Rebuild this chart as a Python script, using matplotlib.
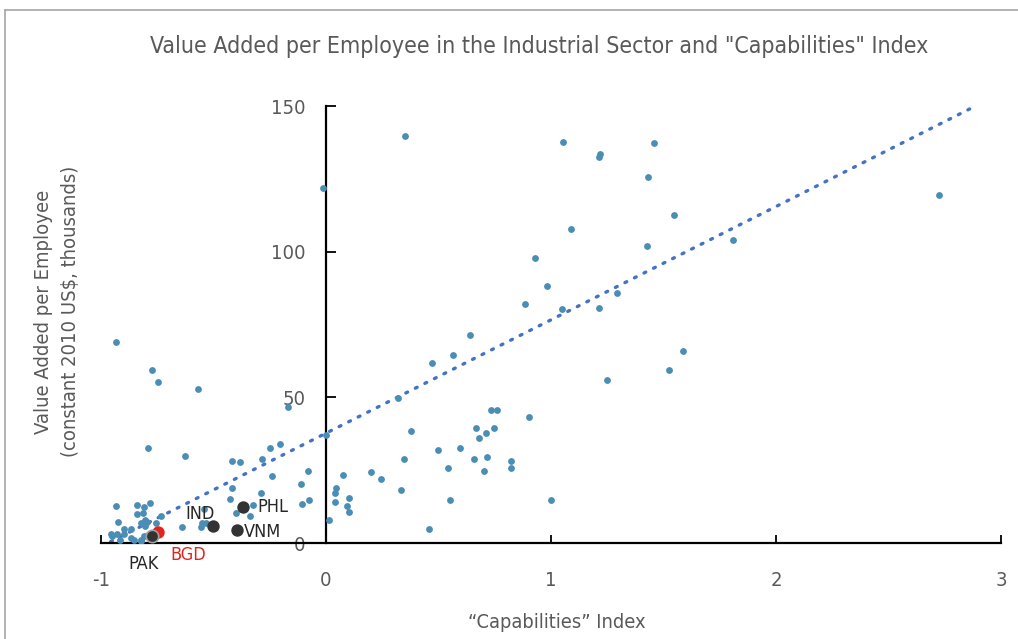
import numpy as np
import matplotlib.pyplot as plt
from matplotlib.lines import Line2D

# capabilities index / value added (thousands, const 2010 US$) for all countries
cap_index = [
    0.352, -0.012, 1.055, 1.218, 1.212, 1.458, 1.431, 1.545, 1.087, 1.425,
    0.930, 0.981, 0.886, 1.049, 1.212, 1.293, 0.641, 0.566, 0.471, 1.588,
    1.524, 1.250, 0.319, 0.735, 0.760, 0.904, 0.378, 0.000, 0.667, 0.748,
    0.711, 0.679, 0.496, 0.597, 0.345, 0.659, 0.716, 0.822, 0.822, 0.541,
    0.704, 0.200, 0.076, 0.244, -0.080, -0.111, 0.044, 0.039, 0.333, 0.101,
    0.039, -0.105, -0.074, 0.095, 0.101, 0.553, 0.999, 0.013, 0.459, 2.724,
    1.807,
    -0.935, -0.772, -0.745, -0.570, -0.169, -0.790, -0.627, -0.250, -0.206, -0.283,
    -0.419, -0.382, -0.239, -0.419, -0.289, -0.427, -0.326, -0.401, -0.338, -0.933,
    -0.840, -0.782, -0.809, -0.840, -0.815, -0.732, -0.756, -0.923, -0.822, -0.797,
    -0.803, -0.896, -0.865, -0.951, -0.929, -0.896, -0.916, -0.865, -0.853, -0.822,
    -0.809, -0.639, -0.557, -0.532, -0.544, -0.957, -0.821, -0.793, -0.553, -0.803,
]
value_added = [
    139.8, 121.9, 137.8, 133.5, 132.6, 137.4, 125.7, 112.6, 107.8, 101.9,
    98.0, 88.3, 82.0, 80.2, 80.6, 85.9, 71.4, 64.5, 61.7, 66.0,
    59.3, 55.8, 49.7, 45.6, 45.6, 43.2, 38.4, 37.0, 39.4, 39.4,
    37.9, 35.9, 32.0, 32.6, 28.7, 28.7, 29.6, 28.1, 25.7, 25.7,
    24.8, 24.3, 23.3, 21.9, 24.8, 20.4, 19.0, 17.0, 18.1, 15.6,
    14.1, 13.4, 14.6, 12.7, 10.8, 14.6, 14.6, 7.9, 4.9, 119.4,
    103.9,
    68.9, 59.3, 55.4, 53.0, 46.7, 32.6, 29.8, 32.6, 34.0, 28.8,
    28.2, 27.8, 22.9, 19.0, 17.0, 15.1, 13.2, 10.3, 9.3, 12.8,
    13.2, 13.7, 12.2, 9.8, 10.3, 9.4, 6.9, 7.3, 6.9, 7.3,
    5.9, 4.9, 4.9, 2.5, 3.0, 3.0, 1.0, 1.6, 1.0, 0.6,
    2.5, 5.4, 5.4, 6.9, 11.6, 3.0, 1.0, 2.7, 6.8, 8.0,
]

# highlighted countries
hl_names = ["IND", "PHL", "VNM"]
hl_x = [-0.501, -0.368, -0.397]
hl_y = [5.8, 12.5, 4.5]
pak_x, pak_y = -0.772, 2.4
bgd_x, bgd_y = -0.748, 3.8

# linear trend
trend_intercept = 37.7
trend_slope = 38.9
trend_x = [-1.0, 2.884]

grey = "#595959"
plt.rcParams["font.family"] = "DejaVu Sans"
plt.rcParams["font.stretch"] = "condensed"
plt.rcParams["axes.unicode_minus"] = False

fig = plt.figure(figsize=(10.18, 6.39), dpi=100)
ax = fig.add_axes([0.0992, 0.1502, 0.8841, 0.6839])

tx = np.array(trend_x)
ax.plot(tx, trend_intercept + trend_slope * tx, color="#4472C4", lw=2.4,
        linestyle=(0, (0.6, 2.6)), dash_capstyle="round", zorder=2)

ax.scatter(cap_index, value_added, s=24, color="#4A8DB5", zorder=3, linewidths=0)
ax.scatter(hl_x, hl_y, s=80, color="#333333", zorder=4, linewidths=0)
ax.scatter([bgd_x], [bgd_y], s=80, color="#E3231E", zorder=4, linewidths=0)
ax.scatter([pak_x], [pak_y], s=80, color="#333333", edgecolors="#A0A0A0",
           linewidths=1.2, zorder=5)

ax.annotate("IND", (hl_x[0], hl_y[0]), xytext=(-20, 5), textcoords="offset points",
            fontsize=13, color="#262626")
ax.annotate("PHL", (hl_x[1], hl_y[1]), xytext=(10, -4), textcoords="offset points",
            fontsize=13, color="#262626")
ax.annotate("VNM", (hl_x[2], hl_y[2]), xytext=(5, -5), textcoords="offset points",
            fontsize=13, color="#262626")
ax.annotate("PAK", (pak_x, pak_y), xytext=(-17, -24), textcoords="offset points",
            fontsize=13, color="#262626")
ax.annotate("BGD", (bgd_x, bgd_y), xytext=(9, -20), textcoords="offset points",
            fontsize=13, color="#E3231E")

ax.set_xlim(-1, 3)
ax.set_ylim(0, 150)
ax.spines["left"].set_position(("data", 0))
ax.spines["bottom"].set_position(("data", 0))
ax.spines["top"].set_visible(False)
ax.spines["right"].set_visible(False)
ax.spines["left"].set_linewidth(1.6)
ax.spines["bottom"].set_linewidth(1.6)
ax.patch.set_visible(False)

ax.set_xticks([-1, 0, 1, 2, 3])
ax.set_yticks([0, 50, 100, 150])
ax.tick_params(axis="x", direction="in", length=6, width=1.3, pad=20,
               labelsize=14.5, labelcolor=grey)
ax.tick_params(axis="y", direction="in", length=7, width=1.3, pad=15,
               labelsize=14.5, labelcolor=grey)

ax.set_xlabel("\u201cCapabilities\u201d Index", fontsize=14.3, color=grey)
ax.xaxis.set_label_coords(0.507, -0.16)
fig.text(0.056, 0.512, "Value Added per Employee\n(constant 2010 US$, thousands)",
         rotation=90, ha="center", va="center", fontsize=14.5, color=grey,
         linespacing=1.55)
fig.text(0.53, 0.928, 'Value Added per Employee in the Industrial Sector and "Capabilities" Index',
         ha="center", va="center", fontsize=16.6, color=grey)

# frame around the figure (top and left edges visible)
fig.add_artist(Line2D([0.005, 1.0], [0.985, 0.985], color="#A6A6A6", lw=1.2))
fig.add_artist(Line2D([0.005, 0.005], [0.0, 0.985], color="#A6A6A6", lw=1.2))

fig.savefig("out.png", dpi=100)
